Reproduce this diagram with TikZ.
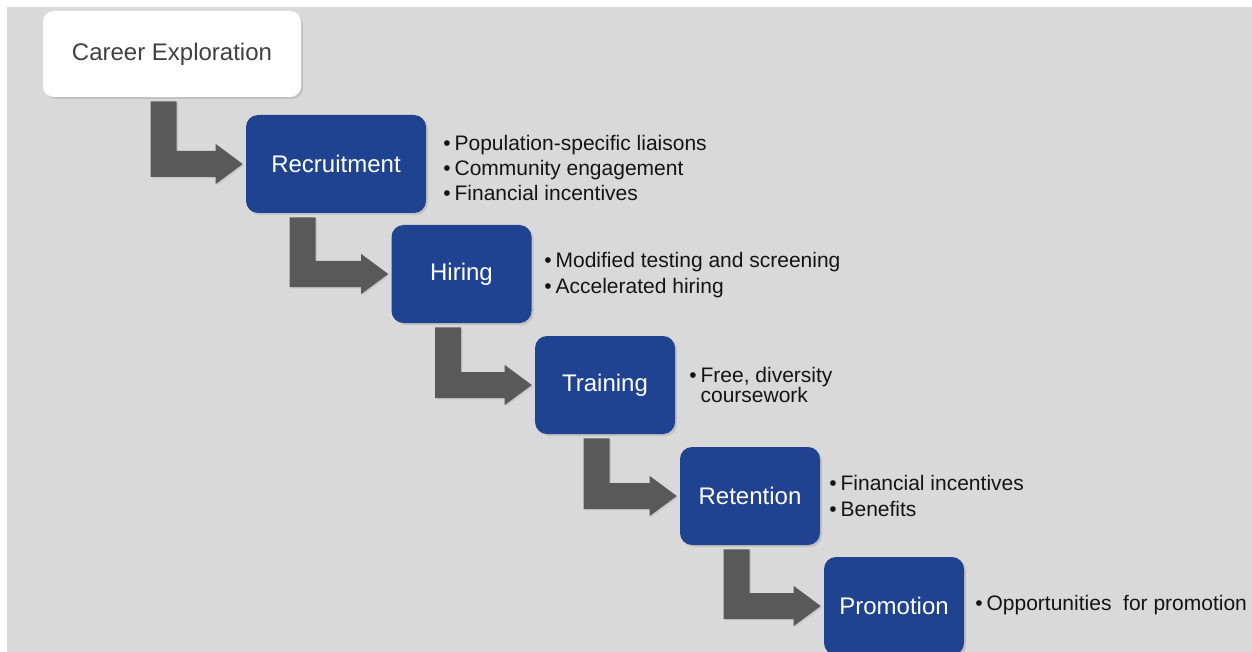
\documentclass[tikz,border=0pt]{standalone}
\usepackage{fontspec}
\setmainfont{Liberation Sans}
\usetikzlibrary{calc,shadows}
\definecolor{bg}{HTML}{D9D9D9}
\definecolor{boxblue}{HTML}{1F4391}
\definecolor{arrowgray}{HTML}{595959}
\definecolor{txtdark}{HTML}{404040}
\definecolor{bultxt}{HTML}{141414}
\tikzset{
  softshadow/.style={drop shadow={opacity=0.25, shadow xshift=1.5pt, shadow yshift=-1.5pt}},
  stepbox/.style={fill=boxblue, rounded corners=9pt, minimum width=105pt, minimum height=73.5pt,
    text=white, font=\fontsize{18}{21}\selectfont, inner sep=0pt, softshadow},
  startbox/.style={fill=white, rounded corners=8pt, minimum width=193.5pt, minimum height=64.5pt,
    text=txtdark, font=\fontsize{18}{21}\selectfont, inner sep=0pt, softshadow},
  bullets/.style={anchor=west, align=left, inner sep=0pt, text=bultxt,
    font=\fontsize{15.75}{19.1}\selectfont},
  arrowshape/.style={fill=arrowgray, drop shadow={opacity=0.2, shadow xshift=1pt, shadow yshift=-1pt}}
}
\newcommand{\elbow}[3]{%
  \path[arrowshape] let \p1=(#1.south west), \p2=(#2.west) in
    ({\x1+#3-9.75pt},{\y1-3pt}) -- ({\x1+#3+9.75pt},{\y1-3pt})
    -- ({\x1+#3+9.75pt},{\y2+9.75pt}) -- ({\x2-22.5pt},{\y2+9.75pt})
    -- ({\x2-22.5pt},{\y2+15pt}) -- ({\x2-2.25pt},{\y2})
    -- ({\x2-22.5pt},{\y2-15pt}) -- ({\x2-22.5pt},{\y2-9.75pt})
    -- ({\x1+#3-9.75pt},{\y2-9.75pt}) -- cycle;}
\newcommand{\bul}{\textbullet\hspace{3pt}}
\begin{document}
\begin{tikzpicture}[x=0.75pt, y=-0.75pt]
  \useasboundingbox (0,0) rectangle (1252,652);
  \fill[white] (0,0) rectangle (1252,652);
  \fill[bg] (7,7) rectangle (1252,652);

  \node[startbox] (ce) at (172,54) {Career Exploration};
  \node[stepbox, minimum width=135pt] (rec) at (336,164) {Recruitment};
  \node[stepbox] (hir) at (461.5,274) {Hiring};
  \node[stepbox] (tra) at (605,385) {Training};
  \node[stepbox] (ret) at (750,496) {Retention};
  \node[stepbox] (pro) at (894,606) {Promotion};

  \elbow{ce}{rec}{90.75pt}
  \elbow{rec}{hir}{42.75pt}
  \elbow{hir}{tra}{42.75pt}
  \elbow{tra}{ret}{46.5pt}
  \elbow{ret}{pro}{42.75pt}

  \node[bullets] (b1) at (443,168) {\bul Population-specific liaisons\\\bul Community engagement\\\bul Financial incentives};
  \node[bullets] (b2) at (544,275) {\bul Modified testing and screening\\\bul Accelerated hiring};
  \node[bullets, font=\fontsize{15.75}{15}\selectfont] (b3) at (689,385) {\bul Free, diversity\\\phantom{\bul}coursework};
  \node[bullets] (b4) at (829,496) {\bul Financial incentives\\\bul Benefits};
  \node[bullets] (b5) at (975,605) {\bul Opportunities\ \ for promotion};
\end{tikzpicture}
\end{document}
